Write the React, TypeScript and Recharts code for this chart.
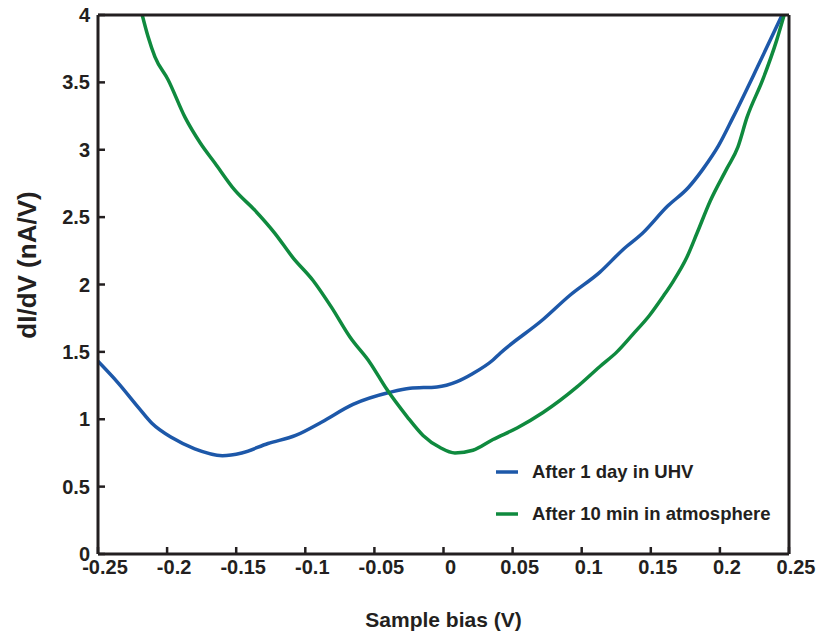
import React from "react";
import { LineChart, Line, XAxis, YAxis, Legend } from "recharts";

const biasUHV = [-0.25, -0.2355, -0.221, -0.211, -0.196, -0.18, -0.16, -0.146, -0.127, -0.107, -0.088, -0.0655, -0.0387, -0.0242, -0.0047, 0.0098, 0.0213, 0.0358, 0.041, 0.072, 0.0915, 0.113, 0.13, 0.144, 0.162, 0.1772, 0.188, 0.199, 0.2095, 0.227, 0.245];
const dIdVUHV = [1.43, 1.27, 1.09, 0.97, 0.86, 0.78, 0.73, 0.75, 0.82, 0.88, 0.98, 1.11, 1.2, 1.23, 1.24, 1.28, 1.34, 1.44, 1.49, 1.74, 1.92, 2.09, 2.26, 2.38, 2.58, 2.72, 2.86, 3.03, 3.24, 3.61, 4.0];

const biasAtm = [-0.218, -0.2138, -0.2088, -0.1993, -0.187, -0.176, -0.1653, -0.151, -0.1364, -0.122, -0.109, -0.0944, -0.081, -0.0677, -0.0532, -0.0409, -0.0264, -0.0148, -0.0025, 0.0083, 0.0213, 0.0358, 0.0532, 0.072, 0.0966, 0.113, 0.1255, 0.137, 0.149, 0.1588, 0.166, 0.176, 0.1834, 0.193, 0.205, 0.213, 0.2196, 0.231, 0.241, 0.2465];
const dIdVAtm = [4.0, 3.84, 3.69, 3.52, 3.24, 3.05, 2.9, 2.7, 2.55, 2.38, 2.2, 2.03, 1.83, 1.61, 1.42, 1.22, 1.02, 0.88, 0.79, 0.75, 0.77, 0.85, 0.935, 1.05, 1.24, 1.39, 1.5, 1.63, 1.77, 1.91, 2.02, 2.2, 2.38, 2.62, 2.86, 3.02, 3.24, 3.52, 3.81, 4.0];

const seriesNames = ["After 1 day in UHV", "After 10 min in atmosphere"];
const seriesColors = ["#1d58a9", "#0f8a3e"];

const xTicks = [-0.25, -0.2, -0.15, -0.1, -0.05, 0, 0.05, 0.1, 0.15, 0.2, 0.25];
const yTicks = [0, 0.5, 1, 1.5, 2, 2.5, 3, 3.5, 4];

const xLabel = "Sample bias (V)";
const yLabel = "dI/dV (nA/V)";

const uhvData = biasUHV.map((x, i) => ({ x, y: dIdVUHV[i] }));
const atmData = biasAtm.map((x, i) => ({ x, y: dIdVAtm[i] }));

const FONT = "'Liberation Sans', Arial, Helvetica, sans-serif";
const INK = "#231f20";
const fmt = (v: number) => String(Number(v.toFixed(2)));

const LegendContent = () => (
  <div style={{ fontFamily: FONT, fontWeight: 700, fontSize: 18.5, color: INK }}>
    {seriesNames.map((n, i) => (
      <div key={n} style={{ display: "flex", alignItems: "center", height: 42 }}>
        <svg width={38} height={10} style={{ display: "block" }}>
          <line x1={2} x2={24} y1={5} y2={5} stroke={seriesColors[i]} strokeWidth={3.5} />
        </svg>
        <span style={{ whiteSpace: "nowrap" }}>{n}</span>
      </div>
    ))}
  </div>
);

export default function App() {
  const tickStyle = { fontFamily: FONT, fontWeight: 700, fontSize: 20, fill: INK };
  return (
    <div style={{ position: "absolute", left: 0, top: 0, width: 823, height: 635, background: "#fff" }}>
      <LineChart width={823} height={635} margin={{ top: 0, right: 0, bottom: 0, left: 0 }}>
        <XAxis
          xAxisId="b"
          dataKey="x"
          type="number"
          domain={[-0.25, 0.25]}
          ticks={xTicks}
          interval={0}
          allowDataOverflow
          height={81}
          orientation="bottom"
          tickFormatter={fmt}
          tickSize={-7}
          tickMargin={13}
          tick={{ ...tickStyle, dx: 7 }}
          axisLine={{ stroke: INK, strokeWidth: 3 }}
          tickLine={{ stroke: INK, strokeWidth: 2.5 }}
          label={{ value: xLabel, position: "insideBottom", offset: 8, style: { fontFamily: FONT, fontWeight: 700, fontSize: 21, fill: INK } }}
        />
        <XAxis
          xAxisId="t"
          type="number"
          domain={[-0.25, 0.25]}
          ticks={xTicks}
          interval={0}
          height={15}
          orientation="top"
          tick={false}
          tickSize={-7}
          axisLine={{ stroke: INK, strokeWidth: 3 }}
          tickLine={{ stroke: INK, strokeWidth: 2.5 }}
        />
        <YAxis
          yAxisId="l"
          type="number"
          domain={[0, 4]}
          ticks={yTicks}
          interval={0}
          allowDataOverflow
          width={98}
          orientation="left"
          tickFormatter={fmt}
          tickSize={-7}
          tickMargin={15}
          tick={tickStyle}
          axisLine={{ stroke: INK, strokeWidth: 3 }}
          tickLine={{ stroke: INK, strokeWidth: 2.5 }}
          label={{
            content: () => (
              <text
                x={36}
                y={265}
                transform="rotate(-90 36 265)"
                textAnchor="middle"
                style={{ fontFamily: FONT, fontWeight: 700, fontSize: 26, fill: INK }}
              >
                {yLabel}
              </text>
            ),
          }}
        />
        <YAxis
          yAxisId="r"
          type="number"
          domain={[0, 4]}
          ticks={yTicks}
          interval={0}
          width={34}
          orientation="right"
          tick={false}
          tickSize={-7}
          axisLine={{ stroke: INK, strokeWidth: 3 }}
          tickLine={{ stroke: INK, strokeWidth: 2.5 }}
        />
        <Legend
          layout="vertical"
          align="center"
          verticalAlign="middle"
          content={<LegendContent />}
          wrapperStyle={{ left: 494, top: 451, width: 300, height: 84 }}
        />
        <Line
          xAxisId="b"
          yAxisId="l"
          data={uhvData}
          dataKey="y"
          name={seriesNames[0]}
          type="monotone"
          stroke={seriesColors[0]}
          strokeWidth={3.5}
          dot={false}
          isAnimationActive={false}
        />
        <Line
          xAxisId="b"
          yAxisId="l"
          data={atmData}
          dataKey="y"
          name={seriesNames[1]}
          type="monotone"
          stroke={seriesColors[1]}
          strokeWidth={3.5}
          dot={false}
          isAnimationActive={false}
        />
      </LineChart>
    </div>
  );
}
